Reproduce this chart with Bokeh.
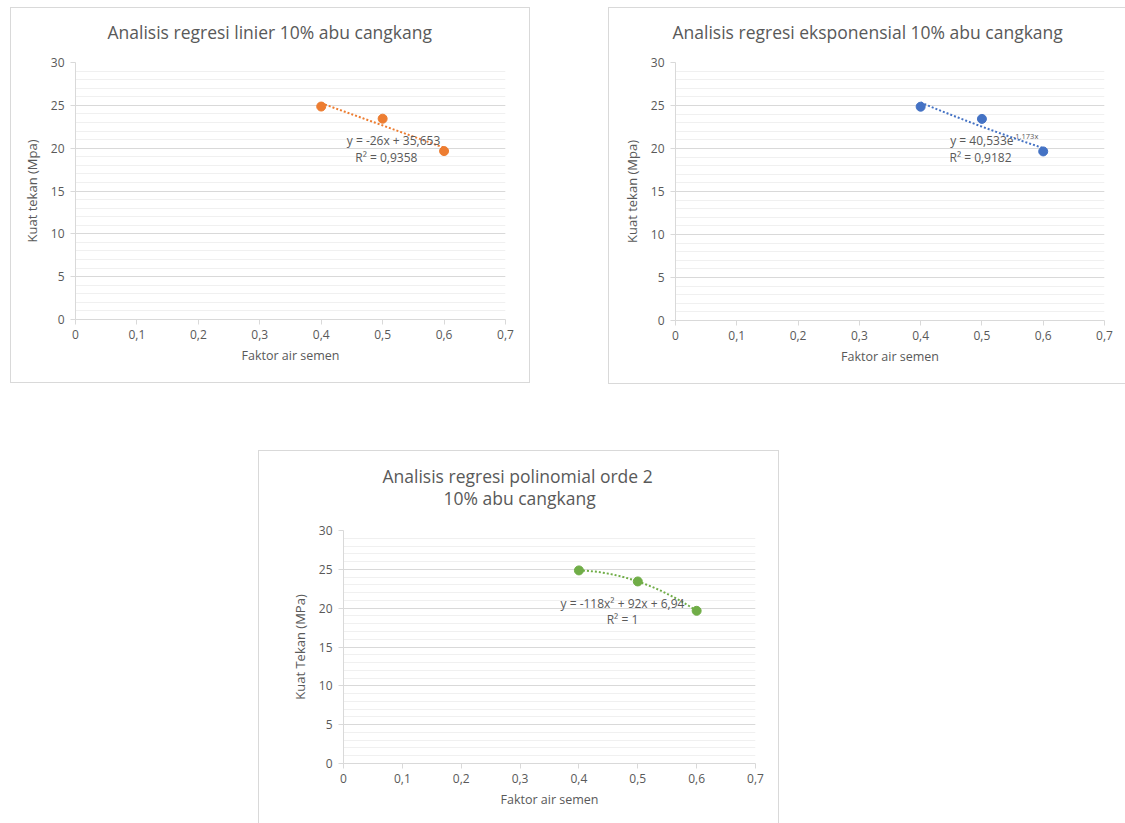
import numpy as np
from bokeh.plotting import figure
from bokeh.models import FixedTicker, Label, Spacer, Range1d, Title
from bokeh.layouts import column, row
from bokeh.embed import file_html
from bokeh.resources import INLINE

# ---- data ----
faktor_air_semen = [0.4, 0.5, 0.6]
kuat_tekan = [24.86, 23.44, 19.66]

x_ticks = [0, 0.1, 0.2, 0.3, 0.4, 0.5, 0.6, 0.7]
x_tick_labels = ["0", "0,1", "0,2", "0,3", "0,4", "0,5", "0,6", "0,7"]
y_ticks = [0, 5, 10, 15, 20, 25, 30]
y_minor_ticks = list(range(0, 31))

title_linier = "Analisis regresi linier 10% abu cangkang"
title_eksp = "Analisis regresi eksponensial  10% abu cangkang"
title_poli = ["Analisis regresi polinomial orde 2", "10% abu cangkang"]
x_label = "Faktor air semen"
y_label_12 = "Kuat tekan (Mpa)"
y_label_3 = "Kuat Tekan (MPa)"

eq_linier = ["y = -26x + 35,653", "R² = 0,9358"]
eq_eksp = ["y = 40,533e", "-1,173x", "R² = 0,9182"]
eq_poli = ["y = -118x² + 92x + 6,94", "R² = 1"]

ORANGE = "#ED7D31"
BLUE = "#4472C4"
GREEN = "#70AD47"
TXT = "#595959"
FONT = "Open Sans"


def make_fig(w, h, left, right, top, bottom, ylab, shadow):
    p = figure(width=w, height=h, x_range=Range1d(0, 0.7), y_range=Range1d(0, 30),
               output_backend="svg", toolbar_location=None,
               min_border_left=left, min_border_right=right,
               min_border_top=top, min_border_bottom=bottom,
               border_fill_color=None, background_fill_color="white")
    p.styles = {"box-shadow": shadow}
    p.outline_line_color = None
    p.xgrid.visible = False
    p.xaxis.ticker = FixedTicker(ticks=x_ticks)
    p.xaxis.major_label_overrides = dict(zip(x_ticks, x_tick_labels))
    p.yaxis.ticker = FixedTicker(ticks=y_ticks, minor_ticks=y_minor_ticks)
    p.ygrid.grid_line_color = "#d9d9d9"
    p.ygrid.minor_grid_line_color = "#f0f0f0"
    for ax in (p.xaxis[0], p.yaxis[0]):
        ax.axis_line_color = "#d9d9d9"
        ax.major_tick_line_color = "#d9d9d9"
        ax.minor_tick_line_color = None
        ax.major_tick_in = 0
        ax.major_tick_out = 5
        ax.major_label_text_color = TXT
        ax.major_label_text_font = FONT
        ax.major_label_text_font_size = "12px"
        ax.axis_label_text_color = TXT
        ax.axis_label_text_font = FONT
        ax.axis_label_text_font_style = "normal"
    p.xaxis.axis_label = x_label
    p.yaxis.axis_label = ylab
    p.xaxis.axis_label_text_font_size = "12.5px"
    p.yaxis.axis_label_text_font_size = "13px"
    p.xaxis.major_label_standoff = 5
    p.xaxis.axis_label_standoff = 5
    p.yaxis.major_label_standoff = 6
    p.yaxis.axis_label_standoff = 7
    return p


def add_title(p, text, standoff, offset):
    p.add_layout(Title(text=text, align="left", offset=offset, text_color=TXT,
                       text_font=FONT, text_font_size="17.5px", text_font_style="normal",
                       standoff=standoff), "above")


def add_text(p, x, y, text, size="12px", align="center"):
    p.add_layout(Label(x=x, y=y, text=text, text_align=align, text_baseline="middle",
                       text_color=TXT, text_font=FONT, text_font_size=size))


SH_FULL = "inset 0 0 0 1px #d9d9d9"
SH_NO_RIGHT = "inset 1px 0 0 0 #d9d9d9, inset 0 1px 0 0 #d9d9d9, inset 0 -1px 0 0 #d9d9d9"
SH_NO_BOTTOM = "inset 1px 0 0 0 #d9d9d9, inset -1px 0 0 0 #d9d9d9, inset 0 1px 0 0 #d9d9d9"

xs = np.array(faktor_air_semen)
ys = np.array(kuat_tekan)
xt = np.linspace(xs.min(), xs.max(), 60)

# ---- chart 1: linear ----
p1 = make_fig(520, 376, 65, 25, 55, 63, y_label_12, SH_FULL)
add_title(p1, " ", 0, 0)          # spacer panel
add_title(p1, title_linier, -15, 32)
c1 = np.polyfit(xs, ys, 1)
p1.line(xt, np.polyval(c1, xt), line_color=ORANGE, line_width=2, line_dash="2 2")
p1.scatter(faktor_air_semen, kuat_tekan, size=9, color=ORANGE)
add_text(p1, 0.5177, 20.93, eq_linier[0])
add_text(p1, 0.506, 18.95, eq_linier[1])

# ---- chart 2: exponential ----
p2 = make_fig(517, 377, 67, 21, 55, 64, y_label_12, SH_NO_RIGHT)
add_title(p2, " ", 0, 0)          # spacer panel
add_title(p2, title_eksp, -15, -3)
c2 = np.polyfit(xs, np.log(ys), 1)
p2.line(xt, np.exp(np.polyval(c2, xt)), line_color=BLUE, line_width=2, line_dash="2 2")
p2.scatter(faktor_air_semen, kuat_tekan, size=9, color=BLUE)
add_text(p2, 0.5515, 20.93, eq_eksp[0], align="right")
add_text(p2, 0.5505, 21.5, eq_eksp[1], size="7.5px", align="left")
add_text(p2, 0.4977, 18.95, eq_eksp[2])

# ---- chart 3: polynomial ----
p3 = make_fig(521, 373, 85, 24, 80, 60, y_label_3, SH_NO_BOTTOM)
add_title(p3, title_poli[1], 41, 100)
add_title(p3, title_poli[0], -49, 39)
c3 = np.polyfit(xs, ys, 2)
p3.line(xt, np.polyval(c3, xt), line_color=GREEN, line_width=2, line_dash="2 2")
p3.scatter(faktor_air_semen, kuat_tekan, size=9, color=GREEN)
add_text(p3, 0.474, 20.6, eq_poli[0])
add_text(p3, 0.474, 18.54, eq_poli[1])

layout = column(
    Spacer(height=7, width=10),
    row(Spacer(width=10, height=10), p1, Spacer(width=78, height=10), p2),
    Spacer(height=66, width=10),
    row(Spacer(width=258, height=10), p3),
)

open("out.html", "w").write(file_html(layout, INLINE))
